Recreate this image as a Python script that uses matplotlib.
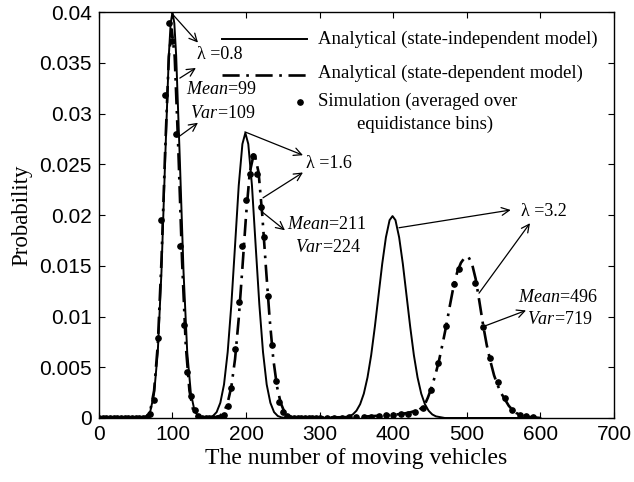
import matplotlib
matplotlib.use("Agg")
import matplotlib.pyplot as plt
from matplotlib.lines import Line2D

plt.rcParams['font.family'] = ['Liberation Sans', 'DejaVu Sans']
plt.rcParams['mathtext.fontset'] = 'custom'
plt.rcParams['mathtext.rm'] = 'Liberation Serif'
plt.rcParams['mathtext.it'] = 'Liberation Serif:italic'

# ---------------- data ----------------
solid1_x = [0, 55, 60, 65, 70, 75, 80, 85, 90, 95, 97.5, 100, 102.5, 105, 110, 115, 120, 125, 130, 135, 140, 145]
solid1_y = [0, 0, .00003, .00016, .0007, .0024, .0065, .0144, .0254, .0357, .0389, .0400, .0389, .0357, .0254, .0144, .0065, .0024, .0007, .00016, .00003, 0]

solid2_x = [140, 150, 155, 160, 165, 170, 175, 180, 185, 190, 195, 199, 203, 208, 213, 218, 223, 228, 233, 238, 243, 248, 255]
solid2_y = [0, .00006, .0002, .00058, .0015, .0033, .0065, .0112, .0170, .0229, .0270, .0281, .0270, .0229, .0170, .0112, .0065, .0033, .0015, .00058, .0002, .00006, 0]

solid3_x = [255, 330, 340, 345, 350, 355, 360, 365, 370, 375, 380, 385, 390, 395, 399,
            403, 408, 413, 418, 423, 428, 433, 438, 443, 448, 453, 458, 470, 600]
solid3_y = [0, .00003, .00016, .00035, .00072, .00136, .0024, .0040, .0062, .0090, .0121, .0152, .0178, .0195, .0199,
            .0195, .0178, .0152, .0121, .0090, .0062, .0040, .0024, .00136, .00072, .00035, .00016, 0, 0]

dd1_x = [0, 55, 60, 65, 70, 75, 80, 85, 90, 95, 99, 103, 108, 113, 118, 123, 128, 133, 138, 145]
dd1_y = [0, 0, .00003, .00018, .0008, .0027, .0072, .0155, .0263, .0356, .0383, .0356, .0263, .0155, .0072, .0027, .0008, .00018, .00003, 0]

dd2_x = [145, 155, 160, 165, 170, 175, 180, 185, 190, 195, 200, 205, 211, 217, 222, 227, 232, 237, 242, 247, 252, 257, 262, 270]
dd2_y = [0, .00002, .00008, .00024, .0006, .0015, .0031, .0058, .0098, .0148, .0200, .0242, .0262, .0242, .0200, .0148, .0098, .0058, .0031, .0015, .0006, .00024, .00008, 0]

dd3_x = [270, 350, 400, 420, 435, 442, 447, 452, 457, 462, 467, 472, 477, 482, 487, 492, 497, 502,
         507, 512, 517, 522, 527, 532, 537, 542, 547, 552, 557, 562, 567, 575, 585, 600]
dd3_y = [0, .0001, .0003, .0005, .0008, .0012, .0020, .0030, .0042, .0056, .0073, .0091, .0111, .0130, .0144, .0153, .0158, .0159,
         .0152, .0137, .0115, .0092, .0072, .0056, .0042, .0032, .0024, .0018, .0012, .0008, .0005, .0002, .0001, 0]

sim08_x = list(range(0, 150, 5))
sim08_y = [0, 0, 0, 0, 0, 0, 0, 0, 0, 0, 0, 0, 0, 0,
           .0004, .0018, .0079, .0195, .0318, .0389, .0372, .0280, .0170, .0092, .0045, .0022, .0008, .0002, 0, 0]

sim16_x = list(range(150, 305, 5))
sim16_y = [0, 0, 0, 0, .0003, .0012, .0030, .0068, .0114, .0170, .0215, .0240, .0258, .0240, .0208, .0178,
           .0120, .0072, .0036, .0016, .0006, .0002, 0, 0, 0, 0, 0, 0, 0, 0, 0]

sim32_x = [310, 320, 330, 340, 350, 360, 370, 380, 390, 400, 410, 420, 430, 441, 451, 461, 472, 482, 490,
           511, 522, 531, 542, 552, 562, 572, 580, 590]
sim32_y = [0, 0, 0, .0001, .0001, .0001, .0001, .0002, .0003, .0003, .0004, .0004, .0006, .0010, .0028, .0054, .0091, .0132, .0147,
           .0133, .0090, .0059, .0035, .0020, .0008, .0003, .0002, .0001]

xticks = [0, 100, 200, 300, 400, 500, 600, 700]
yticks = [0, 0.005, 0.01, 0.015, 0.02, 0.025, 0.03, 0.035, 0.04]
ytick_labels = ['0', '0.005', '0.01', '0.015', '0.02', '0.025', '0.03', '0.035', '0.04']

legend_labels = ['Analytical (state-independent model)',
                 'Analytical (state-dependent model)',
                 'Simulation (averaged over\n      equidistance bins)']

# ---------------- figure ----------------
fig = plt.figure(figsize=(6.34, 4.82), dpi=100)
ax = fig.add_axes([0.156, 0.1328, 0.8125, 0.842])

dd_style = (0, (6.5, 2.5, 1, 2.5))
solid_kw = dict(color='black', lw=1.4, solid_joinstyle='round')
dd_kw = dict(color='black', lw=1.9, linestyle=dd_style)
dot_kw = dict(color='black', ls='none', marker='o', ms=3.8)

for xs, ys in [(solid1_x, solid1_y), (solid2_x, solid2_y), (solid3_x, solid3_y)]:
    ax.plot(xs, ys, **solid_kw)
for xs, ys in [(dd1_x, dd1_y), (dd2_x, dd2_y), (dd3_x, dd3_y)]:
    ax.plot(xs, ys, **dd_kw)
for xs, ys in [(sim08_x, sim08_y), (sim16_x, sim16_y), (sim32_x, sim32_y)]:
    ax.plot(xs, ys, **dot_kw)

ax.set_xlim(0, 700)
ax.set_ylim(0, 0.04)
ax.set_xticks(xticks)
ax.set_yticks(yticks)
ax.set_yticklabels(ytick_labels)
ax.tick_params(direction='in', top=True, right=True, length=4.5, width=0.8, labelsize=15, pad=5)
for s in ax.spines.values():
    s.set_linewidth(1.0)

serif = ['Liberation Serif', 'DejaVu Serif']
ax.set_xlabel('The number of moving vehicles', fontsize=17, family=serif, labelpad=3)
ax.set_ylabel('Probability', fontsize=16.5, family=serif, labelpad=5)

# ---------------- annotations ----------------
arrow = dict(arrowstyle='->', color='black', lw=0.9, shrinkA=0, shrinkB=0, mutation_scale=14)
tkw = dict(fontsize=13, family=serif, va='center', ha='left')
lkw = dict(fontsize=13.5, family=serif, va='center', ha='left')

def arr(tail, head):
    ax.annotate('', xy=head, xytext=tail, arrowprops=arrow)

# lambda = 0.8
arr((98.8, 0.0399), (134.6, 0.0370))
arr((110, 0.0335), (131.8, 0.0345))
arr((110, 0.0278), (134.6, 0.0291))
ax.text(133.2, 0.0358, 'λ =0.8', **tkw)
ax.text(118, 0.0324, r'$\mathit{Mean}$=99', **tkw)
ax.text(123.7, 0.0300, r'$\mathit{Var}$=109', **tkw)

# lambda = 1.6
arr((198.4, 0.0282), (277.3, 0.0259))
arr((223, 0.0217), (277.3, 0.0242))
arr((222, 0.0203), (252.8, 0.0185))
ax.text(281.4, 0.0251, 'λ =1.6', **tkw)
ax.text(255.5, 0.0191, r'$\mathit{Mean}$=211', **tkw)
ax.text(266.4, 0.0168, r'$\mathit{Var}$=224', **tkw)

# lambda = 3.2
arr((407.8, 0.01875), (559.6, 0.0205))
arr((516.5, 0.0123), (585.8, 0.0192))
arr((522, 0.0090), (580.4, 0.0106))
ax.text(573.2, 0.0204, 'λ =3.2', **tkw)
ax.text(569.5, 0.0119, r'$\mathit{Mean}$=496', **tkw)
ax.text(581.8, 0.0097, r'$\mathit{Var}$=719', **tkw)

# ---------------- legend (drawn in axes coordinates) ----------------
T = ax.transAxes
ax.add_line(Line2D([0.239, 0.404], [0.933, 0.933], transform=T, **solid_kw))
ax.add_line(Line2D([0.239, 0.404], [0.846, 0.846], transform=T, **dd_kw))
ax.add_line(Line2D([0.39], [0.778], transform=T, **dot_kw))
ax.text(0.425, 0.933, legend_labels[0], transform=T, **lkw)
ax.text(0.425, 0.850, legend_labels[1], transform=T, **lkw)
ax.text(0.425, 0.781, legend_labels[2].split('\n')[0], transform=T, **lkw)
ax.text(0.501, 0.724, legend_labels[2].split('\n')[1].strip(), transform=T, **lkw)

fig.savefig('out.png', dpi=100)
